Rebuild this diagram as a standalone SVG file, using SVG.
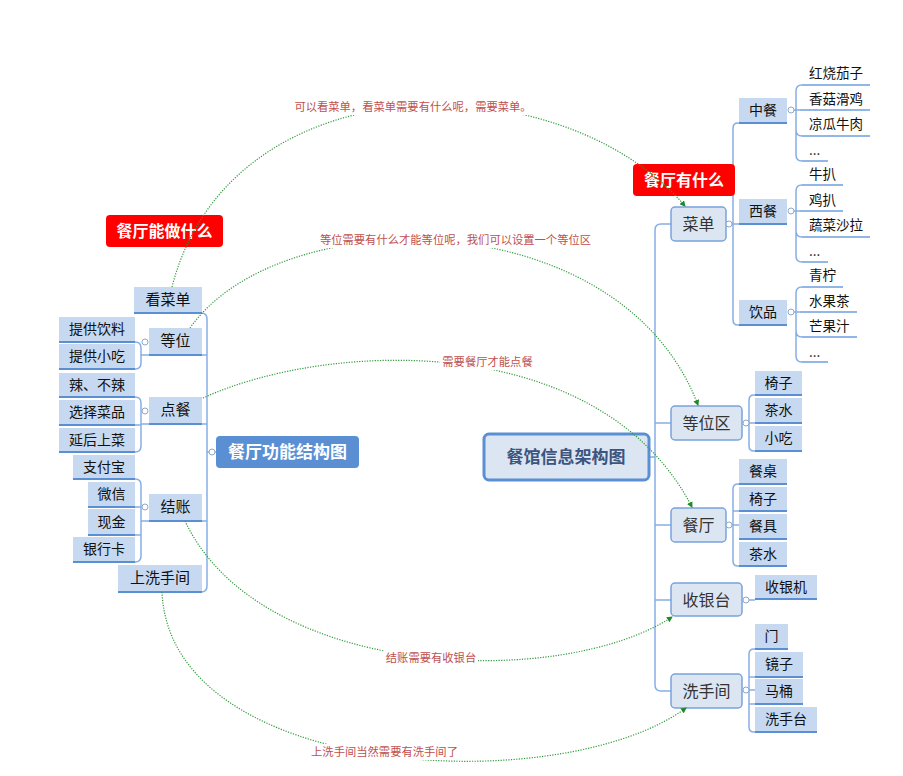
<svg xmlns="http://www.w3.org/2000/svg" width="903" height="776" viewBox="0 0 903 776">
<defs>
<style>
text{font-family:"Microsoft YaHei","Noto Sans CJK SC","Noto Sans",sans-serif;}
.mn{fill:#dce6f2;stroke:#7aa3dc;stroke-width:1.5;}
.sb{fill:#c6d9f1;}
.ul{stroke:#5b8fd4;stroke-width:2;fill:none;}
.lu{stroke:#6f9ee0;stroke-width:1.5;fill:none;}
.br{stroke:#86aee6;stroke-width:1.5;fill:none;}
.cc{fill:#fff;stroke:#8ea9c8;stroke-width:1;}
.t16{font-size:16px;fill:#333;text-anchor:middle;}
.t15{font-size:15px;fill:#111;text-anchor:middle;}
.t14{font-size:14px;fill:#111;text-anchor:middle;}
.lf{font-size:13.5px;fill:#111;}
.red{fill:#ff0000;}
.rt{font-size:16px;font-weight:bold;fill:#fff;text-anchor:middle;}
.cn{fill:none;stroke:#2e9a3a;stroke-width:1.2;stroke-dasharray:1.2 1.4;}
.lb{font-size:11.3px;fill:#c0504d;text-anchor:middle;}
.lbg{fill:#fff;}
</style>
<marker id="ah" markerWidth="6" markerHeight="6" refX="5" refY="3" orient="auto" markerUnits="userSpaceOnUse">
<path d="M0,0 L6,3 L0,6 z" fill="#1f8a2a"/>
</marker>
</defs>
<rect x="0" y="0" width="903" height="776" fill="#fff"/>

<!-- branch lines -->
<g id="branches">
<!-- right trunk -->
<path class="br" d="M650,457 H655 M671,224 H661 Q655,224 655,230 V685 Q655,691 661,691 H671 M655,423 H671 M655,525 H671 M655,600 H671"/>
<!-- 菜单 sub -->
<path class="br" d="M732,224 H739 M739,123 H738 Q733,123 733,128 V320 Q733,325 738,325 H739"/>
<!-- 中餐 leaves -->
<path class="br" d="M794,110 H800 M802,85 Q796,85 796,91 V155 Q796,161 802,161 M796,130 Q796,136 802,136"/>
<path class="lu" d="M802,85 H870 M800,110 H870 M802,136 H870 M802,161 H828"/>
<!-- 西餐 leaves -->
<path class="br" d="M794,211 H800 M802,185 Q796,185 796,191 V256 Q796,262 802,262 M796,231 Q796,237 802,237"/>
<path class="lu" d="M802,185 H843 M800,211 H843 M802,237 H870 M802,262 H828"/>
<!-- 饮品 leaves -->
<path class="br" d="M794,312 H800 M802,287 Q796,287 796,293 V356 Q796,362 802,362 M796,331 Q796,337 802,337"/>
<path class="lu" d="M802,287 H843 M800,312 H857 M802,337 H857 M802,362 H828"/>
<!-- 等位区 sub -->
<path class="br" d="M749,423 H755 M755,395 H754 Q749,395 749,400 V446 Q749,451 754,451 H755"/>
<!-- 餐厅 sub -->
<path class="br" d="M732,525 H739 M739,484 H738 Q733,484 733,489 V561 Q733,566 738,566 H739 M733,511 H739"/>
<!-- 收银台 sub -->
<path class="br" d="M749,600 H755"/>
<!-- 洗手间 sub -->
<path class="br" d="M749,690 H755 M755,649 H754 Q749,649 749,654 V727 Q749,732 754,732 H755 M749,677 H755 M749,704 H755"/>
<!-- left trunk -->
<path class="br" d="M134,313 H201 Q207,313 207,319 V586 Q207,592 201,592 H118 M202,355 H207 M202,424 H207 M202,521 H207 M207,452 H216"/>
<!-- left sub brackets -->
<path class="br" d="M135,342 Q141,342 141,348 V363 Q141,369 135,369 M141,355 H149"/>
<path class="br" d="M135,397 Q141,397 141,403 V446 Q141,452 135,452 M135,425 H141 M141,424 H149"/>
<path class="br" d="M135,479 Q141,479 141,485 V556 Q141,562 135,562 M135,507 H141 M135,535 H141 M141,521 H149"/>
</g>

<!-- centers -->
<g id="center-right">
<rect x="484" y="434" width="165" height="46" rx="5" fill="#dce6f2" stroke="#5b8fd4" stroke-width="3"/>
<text x="566" y="463" font-size="17" font-weight="bold" fill="#3c5580" text-anchor="middle">餐馆信息架构图</text>
</g>
<g id="center-left">
<rect x="216" y="436" width="143" height="32" rx="4" fill="#5a8fd4"/>
<text x="287.5" y="458" font-size="17" font-weight="bold" fill="#fff" text-anchor="middle">餐厅功能结构图</text>
</g>

<!-- right main nodes -->
<g id="n-caidan"><rect class="mn" x="671" y="207" width="55" height="34" rx="4"/><text class="t16" x="698.5" y="230">菜单</text></g>
<g id="n-dengweiqu"><rect class="mn" x="671" y="406" width="71" height="34" rx="4"/><text class="t16" x="706.5" y="429">等位区</text></g>
<g id="n-canting"><rect class="mn" x="671" y="508" width="55" height="34" rx="4"/><text class="t16" x="698.5" y="531">餐厅</text></g>
<g id="n-shouyintai"><rect class="mn" x="671" y="583" width="71" height="33" rx="4"/><text class="t16" x="706.5" y="606">收银台</text></g>
<g id="n-xishoujian"><rect class="mn" x="671" y="674" width="71" height="34" rx="4"/><text class="t16" x="706.5" y="697">洗手间</text></g>

<!-- collapse circles -->
<g id="circles">
<circle class="cc" cx="729" cy="224" r="3"/>
<circle class="cc" cx="791" cy="110" r="3"/>
<circle class="cc" cx="791" cy="211" r="3"/>
<circle class="cc" cx="791" cy="312" r="3"/>
<circle class="cc" cx="746" cy="423" r="3"/>
<circle class="cc" cx="729" cy="525" r="3"/>
<circle class="cc" cx="746" cy="600" r="3"/>
<circle class="cc" cx="746" cy="690" r="3"/>
<circle class="cc" cx="212" cy="452" r="3"/>
<circle class="cc" cx="145" cy="342" r="3"/>
<circle class="cc" cx="145" cy="411" r="3"/>
<circle class="cc" cx="145" cy="507" r="3"/>
</g>

<!-- 菜单 subs -->
<g id="n-zhongcan"><rect class="sb" x="739" y="98" width="48" height="25"/><path class="ul" d="M739,123 H787"/><text class="t14" x="763" y="115">中餐</text></g>
<g id="n-xican"><rect class="sb" x="739" y="199" width="48" height="25"/><path class="ul" d="M739,224 H787"/><text class="t14" x="763" y="216">西餐</text></g>
<g id="n-yinpin"><rect class="sb" x="739" y="300" width="48" height="25"/><path class="ul" d="M739,325 H787"/><text class="t14" x="763" y="317">饮品</text></g>

<!-- leaves -->
<g id="l-zc1"><text class="lf" x="809" y="78">红烧茄子</text></g>
<g id="l-zc2"><text class="lf" x="809" y="104">香菇滑鸡</text></g>
<g id="l-zc3"><text class="lf" x="809" y="129">凉瓜牛肉</text></g>
<g id="l-zc4"><text class="lf" x="809" y="155">...</text></g>
<g id="l-xc1"><text class="lf" x="809" y="179">牛扒</text></g>
<g id="l-xc2"><text class="lf" x="809" y="205">鸡扒</text></g>
<g id="l-xc3"><text class="lf" x="809" y="230">蔬菜沙拉</text></g>
<g id="l-xc4"><text class="lf" x="809" y="256">...</text></g>
<g id="l-yp1"><text class="lf" x="809" y="280">青柠</text></g>
<g id="l-yp2"><text class="lf" x="809" y="306">水果茶</text></g>
<g id="l-yp3"><text class="lf" x="809" y="331">芒果汁</text></g>
<g id="l-yp4"><text class="lf" x="809" y="357">...</text></g>

<!-- 等位区 subs -->
<g id="n-dw-yizi"><rect class="sb" x="755" y="371" width="47" height="24"/><path class="ul" d="M755,395 H802"/><text class="t14" x="778.5" y="388">椅子</text></g>
<g id="n-dw-chashui"><rect class="sb" x="755" y="398" width="47" height="25"/><path class="ul" d="M755,423 H802"/><text class="t14" x="778.5" y="415">茶水</text></g>
<g id="n-dw-xiaochi"><rect class="sb" x="755" y="426" width="47" height="25"/><path class="ul" d="M755,451 H802"/><text class="t14" x="778.5" y="443">小吃</text></g>

<!-- 餐厅 subs -->
<g id="n-ct-canzhuo"><rect class="sb" x="739" y="459" width="48" height="25"/><path class="ul" d="M739,484 H787"/><text class="t14" x="763" y="476">餐桌</text></g>
<g id="n-ct-yizi"><rect class="sb" x="739" y="487" width="48" height="24"/><path class="ul" d="M739,511 H787"/><text class="t14" x="763" y="504">椅子</text></g>
<g id="n-ct-canju"><rect class="sb" x="739" y="514" width="48" height="25"/><path class="ul" d="M739,539 H787"/><text class="t14" x="763" y="531">餐具</text></g>
<g id="n-ct-chashui"><rect class="sb" x="739" y="542" width="48" height="24"/><path class="ul" d="M739,566 H787"/><text class="t14" x="763" y="559">茶水</text></g>

<!-- 收银台 sub -->
<g id="n-shouyinji"><rect class="sb" x="755" y="575" width="62" height="24"/><path class="ul" d="M755,599 H817"/><text class="t14" x="786" y="592">收银机</text></g>

<!-- 洗手间 subs -->
<g id="n-men"><rect class="sb" x="755" y="624" width="33" height="25"/><path class="ul" d="M755,649 H788"/><text class="t14" x="771.5" y="641">门</text></g>
<g id="n-jingzi"><rect class="sb" x="755" y="652" width="48" height="25"/><path class="ul" d="M755,677 H803"/><text class="t14" x="779" y="669">镜子</text></g>
<g id="n-matong"><rect class="sb" x="755" y="679" width="48" height="25"/><path class="ul" d="M755,704 H803"/><text class="t14" x="779" y="696">马桶</text></g>
<g id="n-xishoutai"><rect class="sb" x="755" y="707" width="62" height="25"/><path class="ul" d="M755,732 H817"/><text class="t14" x="786" y="724">洗手台</text></g>

<!-- left subs -->
<g id="n-kancaidan"><rect class="sb" x="134" y="287" width="68" height="26"/><path class="ul" d="M134,313 H202"/><text class="t15" x="168" y="305">看菜单</text></g>
<g id="n-dengwei"><rect class="sb" x="149" y="328" width="53" height="27"/><path class="ul" d="M149,355 H202"/><text class="t15" x="175.5" y="346">等位</text></g>
<g id="n-diancan"><rect class="sb" x="149" y="397" width="53" height="27"/><path class="ul" d="M149,424 H202"/><text class="t15" x="175.5" y="415">点餐</text></g>
<g id="n-jiezhang"><rect class="sb" x="149" y="494" width="53" height="27"/><path class="ul" d="M149,521 H202"/><text class="t15" x="175.5" y="512">结账</text></g>
<g id="n-shangxishoujian"><rect class="sb" x="118" y="565" width="84" height="27"/><path class="ul" d="M118,592 H202"/><text class="t15" x="160" y="583">上洗手间</text></g>

<g id="n-tgyl"><rect class="sb" x="59" y="317" width="76" height="25"/><path class="ul" d="M59,342 H135"/><text class="t14" x="97" y="334">提供饮料</text></g>
<g id="n-tgxc"><rect class="sb" x="59" y="344" width="76" height="25"/><path class="ul" d="M59,369 H135"/><text class="t14" x="97" y="361">提供小吃</text></g>
<g id="n-lbl"><rect class="sb" x="59" y="373" width="76" height="24"/><path class="ul" d="M59,397 H135"/><text class="t14" x="97" y="390">辣、不辣</text></g>
<g id="n-xzcp"><rect class="sb" x="59" y="400" width="76" height="25"/><path class="ul" d="M59,425 H135"/><text class="t14" x="97" y="417">选择菜品</text></g>
<g id="n-yhsc"><rect class="sb" x="59" y="428" width="76" height="24"/><path class="ul" d="M59,452 H135"/><text class="t14" x="97" y="445">延后上菜</text></g>
<g id="n-zfb"><rect class="sb" x="73" y="455" width="62" height="24"/><path class="ul" d="M73,479 H135"/><text class="t14" x="104" y="472">支付宝</text></g>
<g id="n-wx"><rect class="sb" x="88" y="482" width="47" height="25"/><path class="ul" d="M88,507 H135"/><text class="t14" x="111.5" y="499">微信</text></g>
<g id="n-xj"><rect class="sb" x="88" y="509" width="47" height="26"/><path class="ul" d="M88,535 H135"/><text class="t14" x="111.5" y="527">现金</text></g>
<g id="n-yhk"><rect class="sb" x="73" y="537" width="62" height="25"/><path class="ul" d="M73,562 H135"/><text class="t14" x="104" y="554">银行卡</text></g>

<!-- red labels -->
<g id="tag-right"><rect class="red" x="633" y="164" width="102" height="32" rx="4"/><text class="rt" x="684" y="186">餐厅有什么</text></g>
<g id="tag-left"><rect class="red" x="106" y="215" width="117" height="32" rx="4"/><text class="rt" x="164.5" y="237">餐厅能做什么</text></g>

<!-- connectors -->
<g id="connectors">
<path class="cn" d="M172,287 C230,60 560,60 685,206" marker-end="url(#ah)"/>
<path class="cn" d="M190,328 C280,200 620,200 698,405" marker-end="url(#ah)"/>
<path class="cn" d="M203,398 C330,340 600,330 692,507" marker-end="url(#ah)"/>
<path class="cn" d="M185,521 C260,680 560,690 672,617" marker-end="url(#ah)"/>
<path class="cn" d="M162,592 C170,780 560,800 686,708" marker-end="url(#ah)"/>
<rect class="lbg" x="294" y="99" width="238" height="16"/>
<text class="lb" x="413" y="111">可以看菜单，看菜单需要有什么呢，需要菜单。</text>
<rect class="lbg" x="316" y="232" width="279" height="16"/>
<text class="lb" x="455.5" y="244">等位需要有什么才能等位呢，我们可以设置一个等位区</text>
<rect class="lbg" x="440" y="354" width="95" height="16"/>
<text class="lb" x="487.5" y="366">需要餐厅才能点餐</text>
<rect class="lbg" x="384" y="650" width="94" height="16"/>
<text class="lb" x="431" y="662">结账需要有收银台</text>
<rect class="lbg" x="309" y="744" width="151" height="16"/>
<text class="lb" x="384.5" y="756">上洗手间当然需要有洗手间了</text>
</g>
</svg>
